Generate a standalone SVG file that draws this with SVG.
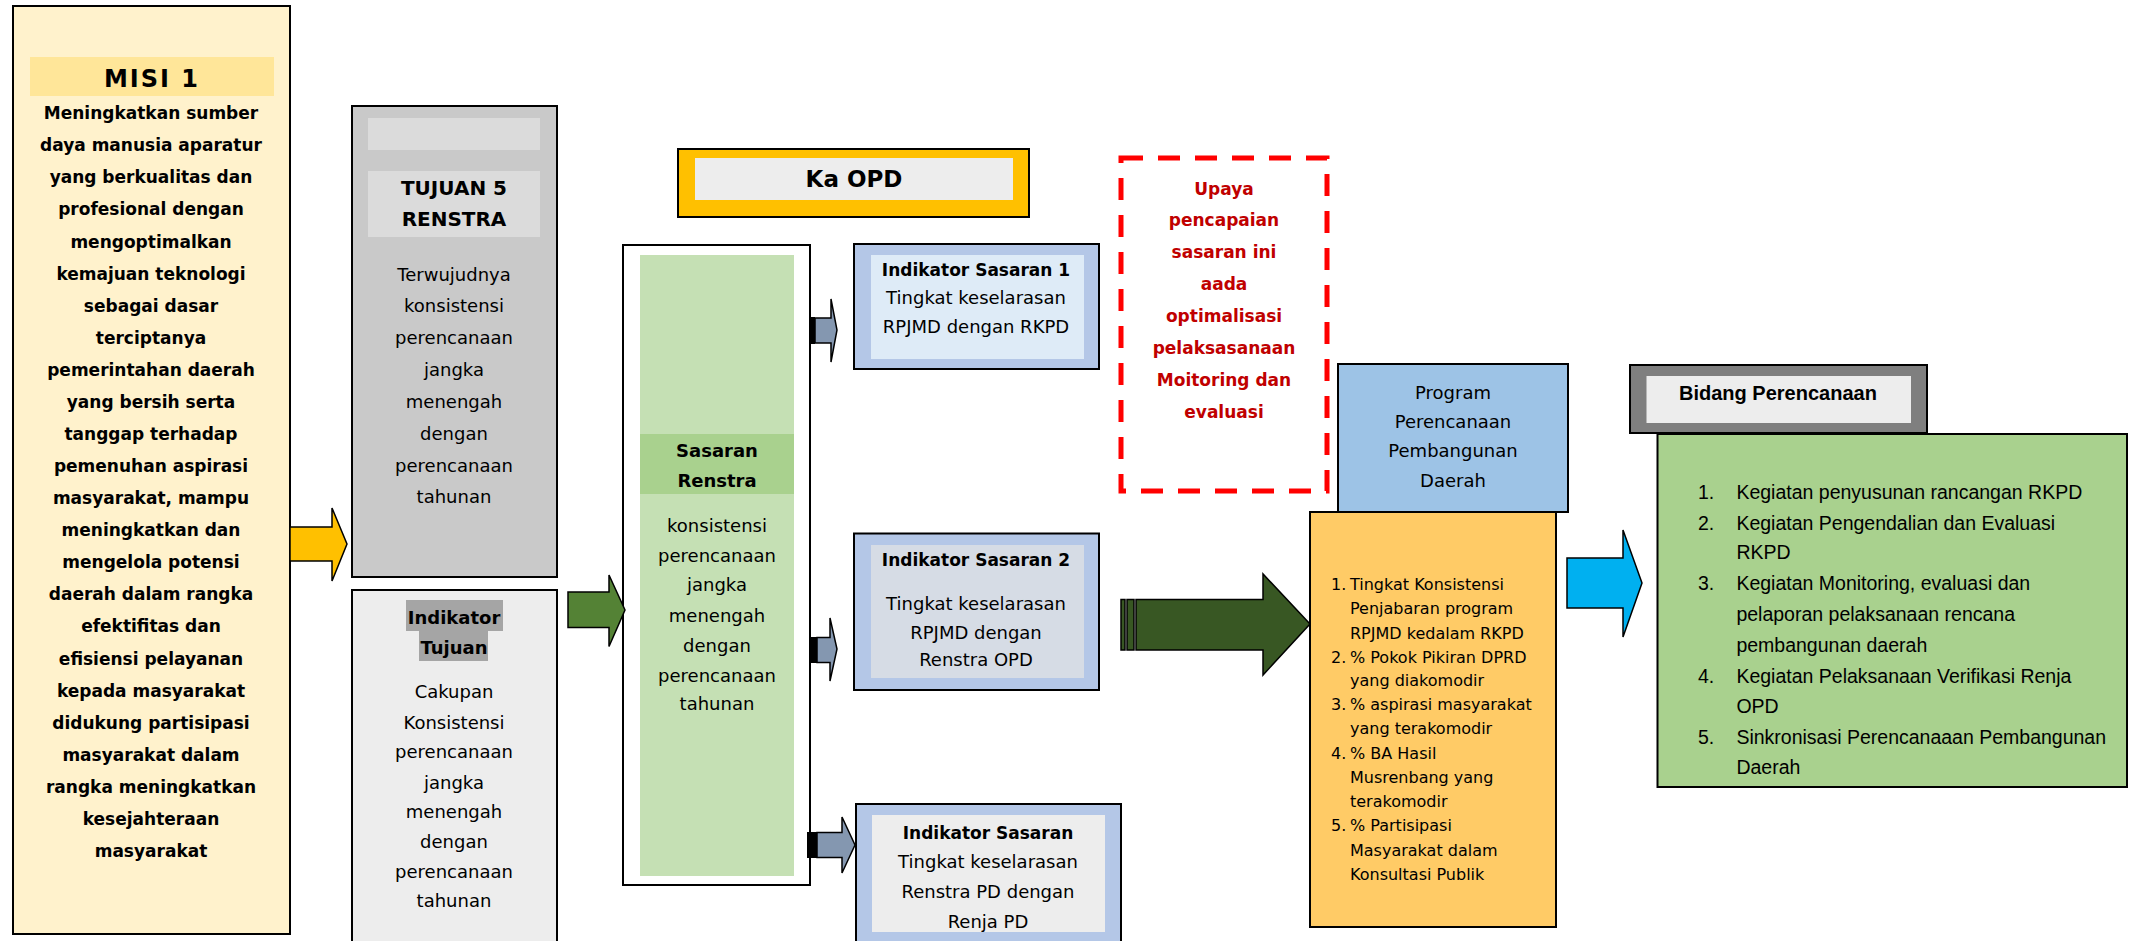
<svg xmlns="http://www.w3.org/2000/svg" width="2130" height="941" viewBox="0 0 2130 941">
<style>
.t{font-family:'DejaVu Sans','Liberation Sans',sans-serif;fill:#000;text-anchor:middle}
.r{font-size:18px}
.b{font-size:17px;font-weight:bold}
.hb{font-size:18px;font-weight:bold}
.l{font-family:'Liberation Sans',Arial,sans-serif;fill:#000}
.box{stroke:#000;stroke-width:2}
.arr{stroke:#000;stroke-width:1.5;stroke-linejoin:miter}
</style>
<rect width="2130" height="941" fill="#fff"/>

<g id="misi">
<rect class="box" x="13" y="6" width="277" height="928" fill="#FFF2CC"/>
<rect x="30" y="57" width="244" height="39" fill="#FFE699"/>
<text class="t" x="152" y="87" font-size="24" font-weight="bold" letter-spacing="2">MISI 1</text>
<g class="t b">
<text x="151" y="119">Meningkatkan sumber</text>
<text x="151" y="151">daya manusia aparatur</text>
<text x="151" y="183">yang berkualitas dan</text>
<text x="151" y="215">profesional dengan</text>
<text x="151" y="247.5">mengoptimalkan</text>
<text x="151" y="279.5">kemajuan teknologi</text>
<text x="151" y="311.5">sebagai dasar</text>
<text x="151" y="343.5">terciptanya</text>
<text x="151" y="375.5">pemerintahan daerah</text>
<text x="151" y="408">yang bersih serta</text>
<text x="151" y="440">tanggap terhadap</text>
<text x="151" y="472">pemenuhan aspirasi</text>
<text x="151" y="504">masyarakat, mampu</text>
<text x="151" y="536">meningkatkan dan</text>
<text x="151" y="568">mengelola potensi</text>
<text x="151" y="600">daerah dalam rangka</text>
<text x="151" y="632">efektifitas dan</text>
<text x="151" y="664.5">efisiensi pelayanan</text>
<text x="151" y="696.5">kepada masyarakat</text>
<text x="151" y="728.5">didukung partisipasi</text>
<text x="151" y="760.5">masyarakat dalam</text>
<text x="151" y="793">rangka meningkatkan</text>
<text x="151" y="825">kesejahteraan</text>
<text x="151" y="857">masyarakat</text>
</g>
</g>

<g id="tujuan">
<rect class="box" x="352" y="106" width="205" height="471" fill="#C9C9C9"/>
<rect x="368" y="118" width="172" height="32" fill="#DBDBDB"/>
<rect x="368" y="171" width="172" height="66" fill="#DBDBDB"/>
<text class="t" x="454" y="195" font-size="20" font-weight="bold">TUJUAN 5</text>
<text class="t" x="454" y="226" font-size="20" font-weight="bold">RENSTRA</text>
<g class="t r">
<text x="454" y="281">Terwujudnya</text>
<text x="454" y="311.5">konsistensi</text>
<text x="454" y="344">perencanaan</text>
<text x="454" y="375.6">jangka</text>
<text x="454" y="408">menengah</text>
<text x="454" y="439.6">dengan</text>
<text x="454" y="472">perencanaan</text>
<text x="454" y="503">tahunan</text>
</g>
</g>

<g id="indikator-tujuan">
<rect class="box" x="352" y="590" width="205" height="360" fill="#EDEDED"/>
<rect x="406" y="600" width="97" height="31" fill="#A5A5A5"/>
<rect x="419" y="631" width="69" height="30" fill="#A5A5A5"/>
<text class="t hb" x="454" y="624">Indikator</text>
<text class="t hb" x="454" y="654">Tujuan</text>
<g class="t r">
<text x="454" y="697.5">Cakupan</text>
<text x="454" y="728.5">Konsistensi</text>
<text x="454" y="758">perencanaan</text>
<text x="454" y="789">jangka</text>
<text x="454" y="818">menengah</text>
<text x="454" y="848">dengan</text>
<text x="454" y="878">perencanaan</text>
<text x="454" y="906.5">tahunan</text>
</g>
</g>

<g id="sasaran-renstra">
<rect class="box" x="623" y="245" width="187" height="640" fill="#fff"/>
<rect x="640" y="255" width="154" height="621" fill="#C5E0B4"/>
<rect x="640" y="434" width="154" height="60" fill="#A9D18E"/>
<text class="t hb" x="717" y="457">Sasaran</text>
<text class="t hb" x="717" y="487">Renstra</text>
<g class="t r">
<text x="717" y="532">konsistensi</text>
<text x="717" y="562">perencanaan</text>
<text x="717" y="591">jangka</text>
<text x="717" y="622">menengah</text>
<text x="717" y="652">dengan</text>
<text x="717" y="682">perencanaan</text>
<text x="717" y="710">tahunan</text>
</g>
</g>

<g id="ka-opd">
<rect class="box" x="678" y="149" width="351" height="68" fill="#FFC000"/>
<rect x="695" y="158" width="318" height="42" fill="#EDEDED"/>
<text class="t" x="854" y="187" font-size="23" font-weight="bold">Ka OPD</text>
</g>

<g id="indikator-sasaran-1">
<rect class="box" x="854" y="244" width="245" height="125" fill="#B4C7E7"/>
<rect x="871" y="255" width="213" height="104" fill="#DEEBF7"/>
<text class="t b" x="976" y="276">Indikator Sasaran 1</text>
<text class="t r" x="976" y="304">Tingkat keselarasan</text>
<text class="t r" x="976" y="332.6">RPJMD dengan RKPD</text>
</g>

<g id="indikator-sasaran-2">
<rect class="box" x="854" y="533.5" width="245" height="156.5" fill="#B4C7E7"/>
<rect x="871" y="545" width="213" height="133" fill="#D6DCE5"/>
<text class="t b" x="976" y="566">Indikator Sasaran 2</text>
<text class="t r" x="976" y="610">Tingkat keselarasan</text>
<text class="t r" x="976" y="639">RPJMD dengan</text>
<text class="t r" x="976" y="666">Renstra OPD</text>
</g>

<g id="indikator-sasaran-3">
<rect class="box" x="856" y="804" width="265" height="150" fill="#B4C7E7"/>
<rect x="872" y="815" width="233" height="117" fill="#EDEDED"/>
<text class="t b" x="988" y="839">Indikator Sasaran</text>
<text class="t r" x="988" y="868">Tingkat keselarasan</text>
<text class="t r" x="988" y="898">Renstra PD dengan</text>
<text class="t r" x="988" y="928">Renja PD</text>
</g>

<g id="upaya">
<rect x="1121" y="158" width="206" height="333" fill="none" stroke="#FF0000" stroke-width="5" stroke-dasharray="22 15"/>
<g class="t b" style="fill:#C00000">
<text x="1224" y="194.5">Upaya</text>
<text x="1224" y="226">pencapaian</text>
<text x="1224" y="258">sasaran ini</text>
<text x="1224" y="290">aada</text>
<text x="1224" y="322">optimalisasi</text>
<text x="1224" y="354">pelaksasanaan</text>
<text x="1224" y="386">Moitoring dan</text>
<text x="1224" y="418">evaluasi</text>
</g>
</g>

<g id="program">
<rect class="box" x="1338" y="364" width="230" height="148" fill="#9DC3E6"/>
<g class="t r">
<text x="1453" y="398.7">Program</text>
<text x="1453" y="427.7">Perencanaan</text>
<text x="1453" y="457">Pembangunan</text>
<text x="1453" y="487">Daerah</text>
</g>
</g>

<g id="indikator-program">
<rect class="box" x="1310" y="512" width="246" height="415" fill="#FFCB66"/>
<g font-family="'DejaVu Sans','Liberation Sans',sans-serif" font-size="16" fill="#000">
<text x="1331" y="590">1.</text>
<text x="1350" y="590">Tingkat Konsistensi</text>
<text x="1350" y="613.5">Penjabaran program</text>
<text x="1350" y="638.5">RPJMD kedalam RKPD</text>
<text x="1331" y="662.5">2.</text>
<text x="1350" y="662.5">% Pokok Pikiran DPRD</text>
<text x="1350" y="686">yang diakomodir</text>
<text x="1331" y="710">3.</text>
<text x="1350" y="710">% aspirasi masyarakat</text>
<text x="1350" y="734">yang terakomodir</text>
<text x="1331" y="758.5">4.</text>
<text x="1350" y="758.5">% BA Hasil</text>
<text x="1350" y="783">Musrenbang yang</text>
<text x="1350" y="807">terakomodir</text>
<text x="1331" y="831">5.</text>
<text x="1350" y="831">% Partisipasi</text>
<text x="1350" y="855.5">Masyarakat dalam</text>
<text x="1350" y="879.5">Konsultasi Publik</text>
</g>
</g>

<g id="bidang-perencanaan">
<rect class="box" x="1630" y="365" width="297" height="68" fill="#7F7F7F"/>
<rect x="1646.5" y="376" width="264.5" height="47" fill="#EDEDED"/>
<text class="l" x="1679" y="400" font-size="20" font-weight="bold">Bidang Perencanaan</text>
</g>

<g id="kegiatan">
<rect class="box" x="1657.5" y="434" width="469.5" height="353" fill="#A9D18E"/>
<g class="l" font-size="19.5">
<text x="1698" y="498.7">1.</text>
<text x="1736.4" y="498.7">Kegiatan penyusunan rancangan RKPD</text>
<text x="1698" y="529.7">2.</text>
<text x="1736.4" y="529.7">Kegiatan Pengendalian dan Evaluasi</text>
<text x="1736.4" y="559.3">RKPD</text>
<text x="1698" y="590.3">3.</text>
<text x="1736.4" y="590.3">Kegiatan Monitoring, evaluasi dan</text>
<text x="1736.4" y="621.3">pelaporan pelaksanaan rencana</text>
<text x="1736.4" y="652">pembangunan daerah</text>
<text x="1698" y="682.7">4.</text>
<text x="1736.4" y="682.7">Kegiatan Pelaksanaan Verifikasi Renja</text>
<text x="1736.4" y="713">OPD</text>
<text x="1698" y="743.7">5.</text>
<text x="1736.4" y="743.7">Sinkronisasi Perencanaaan Pembangunan</text>
<text x="1736.4" y="773.7">Daerah</text>
</g>
</g>

<g id="connectors">
<polygon class="arr" fill="#FFC000" points="290,527 332,527 332,508 347,544 332,581 332,561 290,561"/>
<polygon class="arr" fill="#548235" points="568,592 609,592 609,575 625,610 609,646.5 609,627.5 568,627.5"/>
<rect x="810" y="317" width="5" height="27" fill="#000"/>
<polygon class="arr" fill="#8497B0" points="815,318 831,318 831,299 837,330 831,362 831,343 815,343"/>
<rect x="811" y="637" width="6" height="26" fill="#000"/>
<polygon class="arr" fill="#8497B0" points="817,637.5 830,637.5 830,618 837,649 830,681 830,662.5 817,662.5"/>
<rect x="807" y="832" width="10" height="26" fill="#000"/>
<polygon class="arr" fill="#8497B0" points="817,832.5 842,832.5 842,817 855,845 842,873 842,857.5 817,857.5"/>
<rect class="arr" x="1121" y="599.5" width="4" height="50.5" fill="#385723"/>
<rect class="arr" x="1127" y="599.5" width="7" height="50.5" fill="#385723"/>
<polygon class="arr" fill="#385723" points="1136,599.5 1263,599.5 1263,574 1310,624 1263,675 1263,650 1136,650"/>
<polygon class="arr" fill="#00B0F0" points="1567,558 1623,558 1623,530 1642,583 1623,637 1623,608 1567,608"/>
</g>
</svg>
